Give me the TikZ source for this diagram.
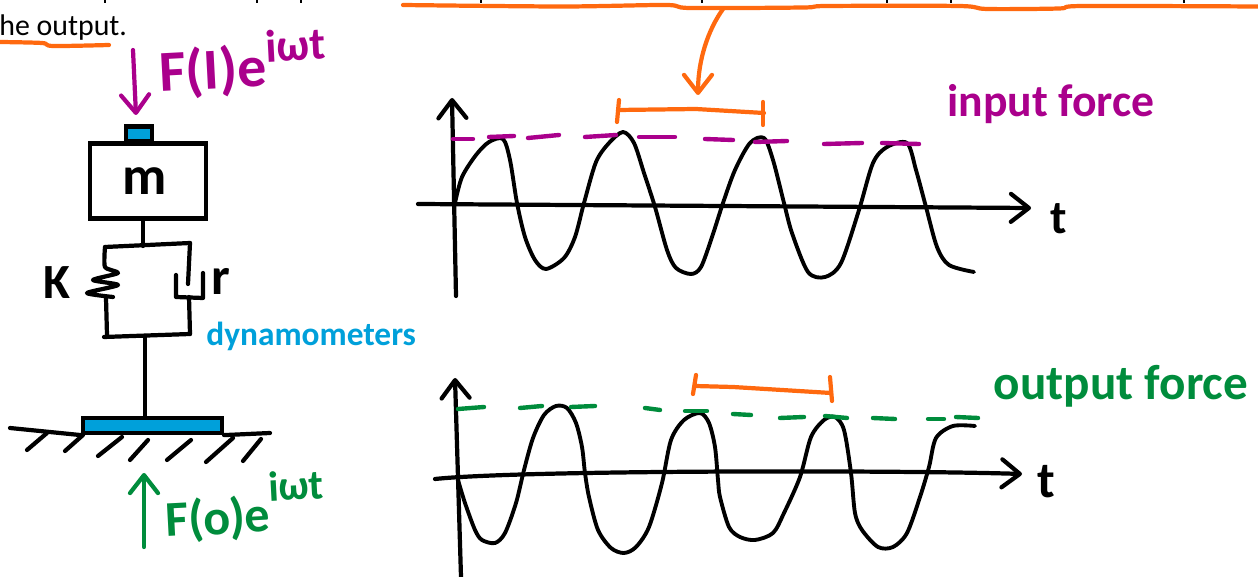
\documentclass[tikz,border=0pt]{standalone}
\usepackage{fontspec}
\setmainfont{Carlito}
\usetikzlibrary{arrows.meta}
\definecolor{inputc}{RGB}{170,0,140}
\definecolor{outputc}{RGB}{0,140,60}
\definecolor{periodc}{RGB}{255,105,15}
\definecolor{gauge}{RGB}{0,160,218}

\begin{document}
\begin{tikzpicture}[
  x=0.02cm, y=-0.02cm,
  pen/.style={line width=2.4pt, line cap=round, line join=round},
  barb/.style={-{Straight Barb[round, length=0.36cm, width=0.56cm]}},
  wave/.style={line width=2.2pt, line cap=round, line join=round},
  dashline/.style={line width=2.5pt, line cap=round},
  block/.style={draw, line width=2.4pt, inner sep=0pt},
  label/.style={font=\bfseries\fontsize{26}{26}\selectfont, inner sep=0pt},
]
\useasboundingbox (0,0) rectangle (1258,577);

% text line at the top
\foreach \x in {105,257,301,481,702,887,951,1184} {
  \draw[line width=0.7pt] (\x,0) -- (\x,3);
}
\node[anchor=base west, inner sep=0pt, font=\fontsize{17}{17}\selectfont] (textline) at (-1,36) {he output.};
\draw[periodc, pen] plot[smooth] coordinates {(0,42) (42,43) (53,46) (109,45)};
\draw[periodc, pen] plot[smooth] coordinates {(403,5) (562,6.5) (666,5) (690,8) (803,7.5)
  (827,6) (959,6) (987,9) (1059,8.5) (1083,6) (1258,6.5)};

% mass and the input force
\node[block, minimum width=2.32cm, minimum height=1.5cm] (mass) at (148,181) {};
\node[label, font=\bfseries\fontsize{31}{31}\selectfont] (masslabel) at (145,181) {m};
\node[block, fill=gauge, minimum width=0.52cm, minimum height=0.3cm] (cap) at (139,134) {};
\coordinate (inputtail) at (133,50);
\coordinate (inputtip) at (136,115);
\draw[inputc, pen, barb] (inputtail) -- (inputtip);
\node[label, inputc, anchor=base west, rotate=3, font=\bfseries\fontsize{33}{33}\selectfont] (inputlabel) at (160,92)
  {F(I)e\raisebox{0.42em}{\fontsize{26}{26}\selectfont iωt}};

% spring and damper
\coordinate (yoketop) at (143,246);
\coordinate (yokeleft) at (105,247);
\coordinate (yokeright) at (190,243);
\coordinate (yokebase) at (145,336);
\coordinate (baseleft) at (104,337);
\coordinate (baseright) at (190,334);
\draw[pen] (mass.south -| yoketop) -- (yoketop);
\draw[pen] (yokeleft) -- (yokeright);
\draw[pen] (baseleft) -- (baseright);
\draw[pen] plot[smooth, tension=0.4] coordinates {(105,247) (105,267) (118,273) (93,280) (118,285) (87,293) (113,297)};
\draw[pen] (106,298) -- (107,335);
\draw[pen] (yokeright) -- (188,284);
\draw[pen] (176,275) -- (176,297) -- (203,298) -- (203,273);
\draw[pen] (189,297) -- (baseright);
\node[label, font=\bfseries\fontsize{28}{28}\selectfont] (klabel) at (57,283) {K};
\node[label, font=\bfseries\fontsize{30}{30}\selectfont] (rlabel) at (221,281) {r};
\node[label, gauge, anchor=base west, font=\bfseries\fontsize{19}{19}\selectfont] (gaugelabel) at (206,346) {dynamometers};

% ground and the output force
\node[block, fill=gauge, minimum width=2.78cm, minimum height=0.3cm] (plate) at (152.5,425.5) {};
\draw[pen] (yokebase) -- (plate.north -| yokebase);
\draw[pen] (10,428) -- (plate.south west);
\draw[pen] (plate.south east) -- (270,433);
\foreach \xa/\ya/\xb/\yb in {47/433/27/450, 83/435/65/451, 122/437/98/456, 148/440/130/460,
                             191/440/167/460, 233/438/206/462, 261/439/243/461} {
  \draw[pen] (\xa,\ya) -- (\xb,\yb);
}
\coordinate (outputtail) at (144,547);
\coordinate (outputtip) at (144,473);
\draw[outputc, pen, barb] (outputtail) -- (outputtip);
\node[label, outputc, anchor=base west, rotate=3, font=\bfseries\fontsize{28.5}{28.5}\selectfont] (outputlabel) at (166,537)
  {F(o)e\raisebox{0.6em}{\fontsize{24}{24}\selectfont iωt}};

% input force graph
\coordinate (ytail) at (456,296);
\coordinate (ytip) at (452,98);
\coordinate (ttail) at (418,204);
\coordinate (ttip) at (1031,208);
\draw[pen, barb] (ytail) -- (ytip);
\draw[pen, barb] (ttail) -- (ttip);
\node[label, font=\bfseries\fontsize{27}{27}\selectfont] (tlabel) at (1059,219) {t};
\draw[wave] plot[smooth] coordinates {(455,203) (462,177) (476,155) (489,142) (503,139) (510,160)
  (517,203) (525,237) (535,260) (546,269) (564,258) (575,237) (584,203) (596,162) (609,143)
  (623,132) (634,143) (644,173) (655,207) (667,250) (676,268) (691,274) (701,267) (712,237)
  (723,203) (735,170) (750,143) (764,138) (773,160) (784,203) (792,233) (808,272) (825,277)
  (841,263) (859,210) (873,163) (887,147) (907,143) (916,170) (926,207) (937,247) (949,265) (974,272)};
\foreach \xa/\ya/\xb/\yb in {453/139/473/139, 489/137/514/136, 528/138/559/135, 585/137/616/135,
                             639/137/675/137, 705/139/733/140, 755/142/787/141, 824/144/862/143,
                             882/143/919/144} {
  \draw[inputc, dashline] (\xa,\ya) -- (\xb,\yb);
}
\draw[periodc, pen] (618,110) -- (696,109) -- (764,113);
\draw[periodc, pen] (619,100) -- (617,122);
\draw[periodc, pen] (763,102) -- (763,125);
\coordinate (periodfrom) at (723,9);
\coordinate (periodto) at (698,95);
\draw[periodc, pen, barb] (periodfrom) .. controls (708,30) and (698,60) .. (periodto);
\node[label, inputc] (inputname) at (1051,104) {input force};

% output force graph
\coordinate (ytailb) at (461,577);
\coordinate (ytipb) at (455,378);
\coordinate (ttailb) at (435,479);
\coordinate (ttipb) at (1022,474);
\draw[pen, barb] (ytailb) -- (ytipb);
\draw[pen, barb] (ttailb) .. controls (520,470) and (900,470) .. (ttipb);
\node[label, font=\bfseries\fontsize{29}{29}\selectfont] (tlabelb) at (1046,482) {t};
\draw[wave] plot[smooth] coordinates {(458,480) (465,503) (475,530) (482,540) (495,543) (505,533)
  (516,503) (524,470) (533,438) (544,415) (556,406) (567,408) (576,423) (582,447) (585,473)
  (589,497) (598,530) (611,548) (624,553) (636,547) (649,527) (662,483) (671,440) (684,420)
  (700,413) (709,423) (715,447) (718,480) (720,497) (729,527) (740,537) (755,540) (773,533)
  (784,513) (800,477) (811,437) (824,420) (835,417) (844,430) (851,473) (855,513) (862,530)
  (878,547) (893,547) (907,533) (920,497) (929,467) (936,438) (953,426) (975,426)};
\foreach \xa/\ya/\xb/\yb in {458/409/484/407, 520/408/542/406, 571/407/595/406, 645/408/660/410,
                             685/411/707/411, 733/414/751/415, 780/418/804/417, 825/416/847/418,
                             873/418/895/419, 928/419/944/419, 956/417/978/418} {
  \draw[outputc, dashline] (\xa,\ya) -- (\xb,\yb);
}
\draw[periodc, pen] (695,386) -- (733,387) -- (831,393);
\draw[periodc, pen] (696,375) -- (693,394);
\draw[periodc, pen] (830,377) -- (832,401);
\node[label, outputc, font=\bfseries\fontsize{28}{28}\selectfont] (outputname) at (1121,386) {output force};
\end{tikzpicture}
\end{document}
